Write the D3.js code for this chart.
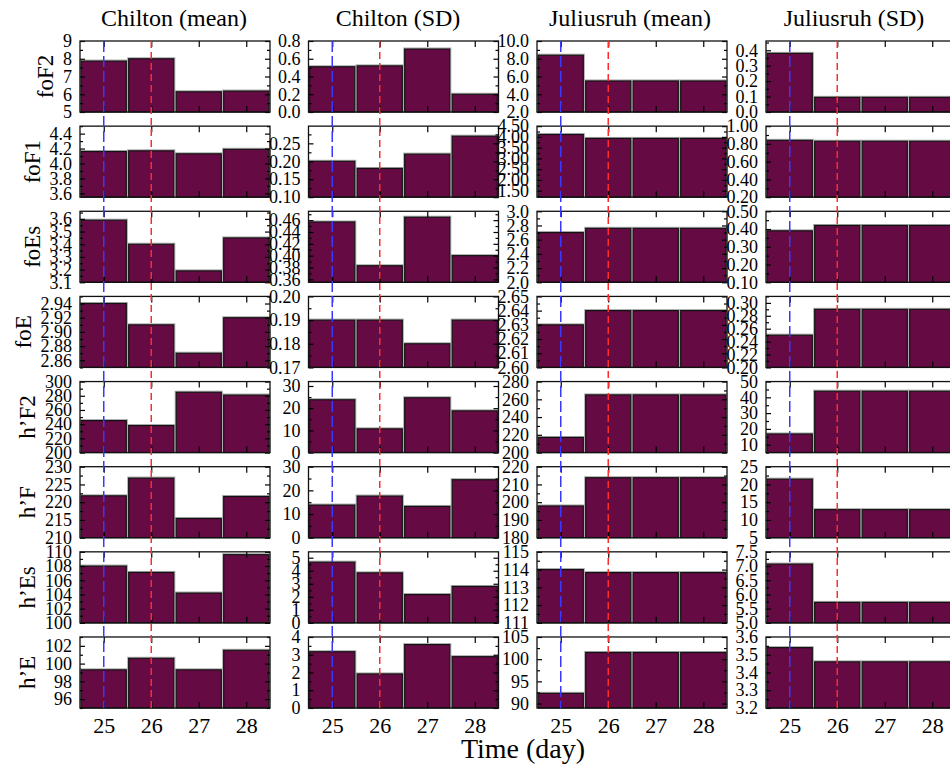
<!DOCTYPE html>
<html>
<head>
<meta charset="utf-8">
<script src="https://cdn.jsdelivr.net/npm/d3@7"></script>
<style>
  body { margin: 0; background: #fff; }
  svg text { font-family: "Liberation Serif", "Times New Roman", serif; fill: #000; }
</style>
</head>
<body>
<script>
// ---- data -------------------------------------------------------------
const days = [25, 26, 27, 28];
const stations = ["Chilton (mean)", "Chilton (SD)", "Juliusruh (mean)", "Juliusruh (SD)"];
const params = ["foF2", "foF1", "foEs", "foE", "h’F2", "h’F", "h’Es", "h’E"];
const markDays = [25, 26];               // dashed markers: blue, red

// daily values, one list per station column
const foF2 = [[7.87, 8.0, 6.14, 6.18], [0.51, 0.52, 0.71, 0.20], [8.4, 5.5, 5.5, 5.5], [0.38, 0.095, 0.095, 0.095]];
const foF1 = [[4.16, 4.17, 4.13, 4.19], [0.20, 0.18, 0.22, 0.27], [4.11, 3.93, 3.93, 3.93], [0.84, 0.83, 0.83, 0.83]];
const foEs = [[3.59, 3.40, 3.19, 3.45], [0.457, 0.383, 0.465, 0.40], [2.70, 2.76, 2.76, 2.76], [0.39, 0.42, 0.42, 0.42]];
const foE  = [[2.94, 2.91, 2.87, 2.92], [0.19, 0.19, 0.18, 0.19], [2.63, 2.64, 2.64, 2.64], [0.25, 0.29, 0.29, 0.29]];
const hF2  = [[245, 238, 285, 281], [23.8, 10.7, 24.7, 18.8], [217, 265, 265, 265], [16.8, 43.9, 43.9, 43.9]];
const hF   = [[221.8, 226.8, 215.4, 221.6], [13.8, 17.6, 13.2, 24.5], [197.9, 213.8, 213.8, 213.8], [21.5, 12.9, 12.9, 12.9]];
const hEs  = [[108.0, 107.1, 104.2, 109.6], [4.66, 3.84, 2.17, 2.79], [114.0, 113.83, 113.83, 113.83], [7.07, 5.72, 5.72, 5.72]];
const hE   = [[99.3, 100.6, 99.3, 101.5], [3.17, 1.92, 3.57, 2.89], [92.3, 101.5, 101.5, 101.5], [3.54, 3.46, 3.46, 3.46]];

// y axes: [min, max, major step, decimals, minor step], one per station column
const foF2Axis = [[5, 9, 1, 0, 0.5], [0, 0.8, 0.2, 1, 0.1], [2, 10, 2, 1, 1], [0, 0.46, 0.1, 1, 0.05]];
const foF1Axis = [[3.55, 4.5, 0.2, 1, 0.1], [0.1, 0.298, 0.05, 2, 0.025], [1.2, 4.5, 0.5, 2, 0.25], [0.2, 1.0, 0.2, 2, 0.1]];
const foEsAxis = [[3.1, 3.66, 0.1, 1, 0.05], [0.355, 0.475, 0.02, 2, 0.01], [2.0, 3.0, 0.2, 1, 0.1], [0.1, 0.5, 0.1, 2, 0.05]];
const foEAxis  = [[2.85, 2.95, 0.02, 2, 0.01], [0.17, 0.20, 0.01, 2, 0.005], [2.60, 2.65, 0.01, 2, 0.005], [0.2, 0.31, 0.02, 2, 0.01]];
const hF2Axis  = [[200, 300, 20, 0, 10], [0, 32, 10, 0, 5], [200, 280, 20, 0, 10], [5, 50, 10, 0, 5]];
const hFAxis   = [[210, 230, 5, 0, 2.5], [0, 30, 10, 0, 5], [180, 220, 10, 0, 5], [5, 25, 5, 0, 2.5]];
const hEsAxis  = [[100, 110, 2, 0, 1], [0, 5.45, 1, 0, 0.5], [111, 115, 1, 0, 0.5], [5.0, 7.5, 0.5, 1, 0.25]];
const hEAxis   = [[95, 103, 2, 0, 1], [0, 4, 1, 0, 0.5], [89, 105, 5, 0, 2.5], [3.2, 3.6, 0.1, 1, 0.05]];

const values = [foF2, foF1, foEs, foE, hF2, hF, hEs, hE];
const axes = [foF2Axis, foF1Axis, foEsAxis, foEAxis, hF2Axis, hFAxis, hEsAxis, hEAxis];

// ---- layout -----------------------------------------------------------
const width = 950, height = 769;
const colX = [80, 308.5, 537, 766];
const panelW = 190, panelH = 71;
const rowY = d3.range(params.length).map(i => 41 + i * 85.14);
const titleX = [174, 398, 630, 854];
const barColor = "#660a44";
const barWidth = 0.95;

const svg = d3.select("body").append("svg")
  .attr("width", width).attr("height", height);
svg.append("rect").attr("width", width).attr("height", height).attr("fill", "#fff");

function tickList(lo, hi, step) {
  const out = [];
  for (let k = Math.ceil(lo / step - 1e-9); k * step <= hi + 1e-9; k++) out.push(+(k * step).toFixed(10));
  return out;
}

function styleAxis(sel, fontSize) {
  sel.select(".domain").remove();
  sel.attr("font-family", null).attr("font-size", fontSize);
  sel.selectAll("line").attr("stroke", "#000").attr("stroke-width", 1.2);
}

params.forEach((param, r) => {
  let minLabelLeft = Infinity;
  stations.forEach((station, c) => {
    const [lo, hi, step, dec, minorStep] = axes[r][c];
    const x0 = colX[c], y0 = rowY[r];
    const x = d3.scaleLinear().domain([24.5, 28.5]).range([x0, x0 + panelW]);
    const y = d3.scaleLinear().domain([lo, hi]).range([y0 + panelH, y0]);
    const vals = values[r][c];
    const g = svg.append("g");

    const major = tickList(lo, hi, step);
    const minor = tickList(lo, hi, minorStep).filter(v => !major.some(m => Math.abs(m - v) < 1e-9));

    // bars: light outline behind, then the filled bar with dark edge
    const bars = days.map((d, i) => ({ d, v: vals[i] }));
    g.selectAll("rect.halo").data(bars).join("rect").attr("class", "halo")
      .attr("x", b => x(b.d - barWidth / 2) - 1)
      .attr("y", b => y(b.v) - 1)
      .attr("width", x(barWidth) - x(0) + 2)
      .attr("height", b => y0 + panelH - y(b.v) + 1)
      .attr("fill", "none").attr("stroke", "#a8a8a8").attr("stroke-width", 1);
    g.selectAll("rect.bar").data(bars).join("rect").attr("class", "bar")
      .attr("x", b => x(b.d - barWidth / 2))
      .attr("y", b => y(b.v))
      .attr("width", x(barWidth) - x(0))
      .attr("height", b => y0 + panelH - y(b.v))
      .attr("fill", barColor).attr("stroke", "#111").attr("stroke-width", 1.2);

    // y ticks, left with labels, right mirrored
    const left = g.append("g").attr("transform", `translate(${x0},0)`)
      .call(d3.axisLeft(y).tickValues(major).tickSizeInner(-5).tickSizeOuter(0).tickPadding(8)
        .tickFormat(d3.format(`.${dec}f`)))
      .call(a => styleAxis(a, 18));
    g.append("g").attr("transform", `translate(${x0},0)`)
      .call(d3.axisLeft(y).tickValues(minor).tickSizeInner(-3).tickSizeOuter(0).tickFormat(""))
      .call(a => styleAxis(a, 18));
    g.append("g").attr("transform", `translate(${x0 + panelW},0)`)
      .call(d3.axisRight(y).tickValues(major).tickSizeInner(-5).tickSizeOuter(0).tickFormat(""))
      .call(a => styleAxis(a, 18));
    g.append("g").attr("transform", `translate(${x0 + panelW},0)`)
      .call(d3.axisRight(y).tickValues(minor).tickSizeInner(-3).tickSizeOuter(0).tickFormat(""))
      .call(a => styleAxis(a, 18));

    // x ticks, top and bottom; day labels under the last row only
    g.append("g").attr("transform", `translate(0,${y0})`)
      .call(d3.axisTop(x).tickValues(days).tickSizeInner(-6).tickSizeOuter(0).tickFormat(""))
      .call(a => styleAxis(a, 22));
    const lastRow = r === params.length - 1;
    g.append("g").attr("transform", `translate(0,${y0 + panelH})`)
      .call(d3.axisBottom(x).tickValues(days).tickSizeInner(-6).tickSizeOuter(0).tickPadding(9)
        .tickFormat(lastRow ? d3.format("d") : ""))
      .call(a => styleAxis(a, 22));

    // panel frame
    g.append("rect").attr("x", x0).attr("y", y0).attr("width", panelW).attr("height", panelH)
      .attr("fill", "none").attr("stroke", "#111").attr("stroke-width", 1.3);

    if (c === 0) {
      left.selectAll("text").each(function () {
        const bb = this.getBBox();
        minLabelLeft = Math.min(minLabelLeft, x0 + bb.x);
      });
    }
  });

  // parameter name, rotated, left of the first column's tick labels
  const cy = rowY[r] + panelH / 2;
  const lx = minLabelLeft - 10;
  svg.append("text")
    .attr("transform", `translate(${lx},${cy}) rotate(-90)`)
    .attr("text-anchor", "middle")
    .attr("font-size", 23)
    .text(param);
});

// station titles
stations.forEach((s, c) => {
  svg.append("text").attr("x", titleX[c]).attr("y", 26)
    .attr("text-anchor", "middle").attr("font-size", 24).text(s);
});

// dashed day markers spanning every row of each column
const markColors = ["#3838ff", "#ff2a2a"];
const markDash = ["11,4", "7,4"];
colX.forEach(x0 => {
  const x = d3.scaleLinear().domain([24.5, 28.5]).range([x0, x0 + panelW]);
  markDays.forEach((d, i) => {
    svg.append("line")
      .attr("x1", x(d)).attr("x2", x(d))
      .attr("y1", rowY[0]).attr("y2", rowY[rowY.length - 1] + panelH)
      .attr("stroke", markColors[i]).attr("stroke-width", 1.5)
      .attr("stroke-dasharray", markDash[i]);
  });
});

// shared x label
svg.append("text").attr("x", 523).attr("y", 758)
  .attr("text-anchor", "middle").attr("font-size", 28).text("Time (day)");
</script>
</body>
</html>
